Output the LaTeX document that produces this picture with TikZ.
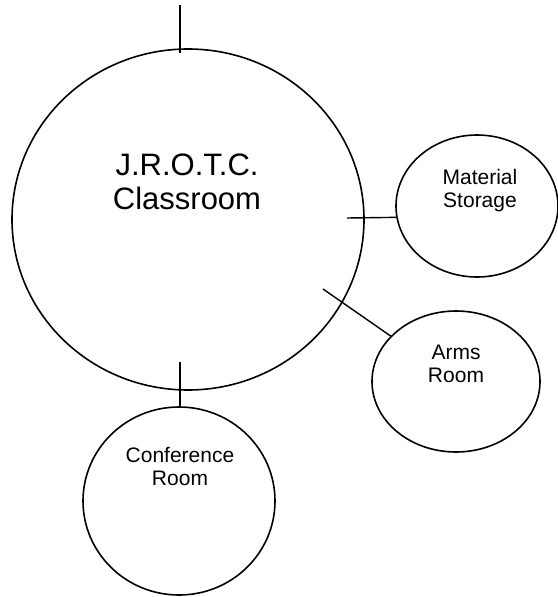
\documentclass[tikz,border=0pt]{standalone}
\usepackage{fontspec}
\setmainfont{Liberation Sans}
\usetikzlibrary{shapes}

\begin{document}
\begin{tikzpicture}[x=1pt,y=-1pt]
	\tikzstyle{room}=[ellipse,draw,line width=1.6pt,inner sep=0pt]
	\tikzstyle{bigroomtext}=[align=center,font=\fontsize{31}{34}\selectfont]
	\tikzstyle{roomtext}=[align=center,font=\fontsize{21}{23}\selectfont]
	\tikzstyle{link}=[line width=1.4pt]
	\useasboundingbox (0,0) rectangle (557,597);

	% rooms
	\node[room,minimum width=352pt,minimum height=341pt] (class) at (188,219.5) {};
	\node[room,minimum width=162pt,minimum height=142pt] (store) at (477,206) {};
	\node[room,minimum width=168pt,minimum height=141pt] (arms) at (456,381.5) {};
	\node[room,minimum width=192pt,minimum height=188pt] (conf) at (179,501) {};

	% base is the last line
	\node[bigroomtext,anchor=base] (classTxt) at (187,209) {J.R.O.T.C.\\Classroom};
	\node[roomtext,anchor=base] (storeTxt) at (480,207) {Material\\Storage};
	\node[roomtext,anchor=base] (armsTxt) at (456,382) {Arms\\Room};
	\node[roomtext,anchor=base] (confTxt) at (180,485) {Conference\\Room};

	% doors
	\coordinate (topOut) at (180,5);
	\coordinate (topIn) at (180,53);
	\coordinate (storeIn) at (347,218);
	\coordinate (armsIn) at (323,289);
	\coordinate (confIn) at (180,362);

	\draw[link] (topOut) -- (topIn);
	\draw[link] (storeIn) -- (store.188);
	\draw[link] (armsIn) -- (arms);
	\draw[link] (confIn) -- (confIn |- conf.north);
\end{tikzpicture}
\end{document}
